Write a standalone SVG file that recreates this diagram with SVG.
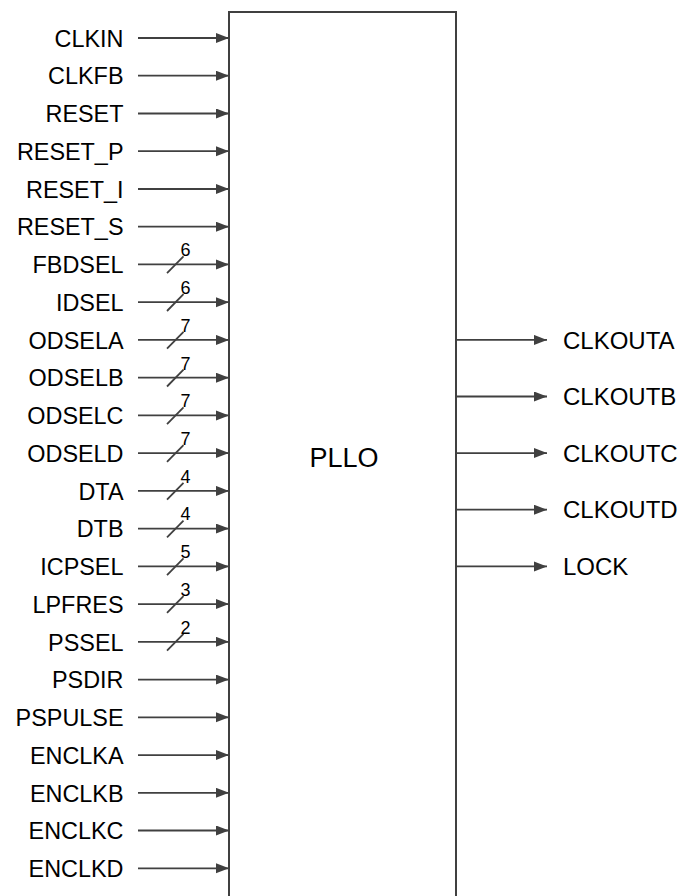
<svg xmlns="http://www.w3.org/2000/svg" width="678" height="896" viewBox="0 0 678 896">
<defs>
<marker id="ah" markerUnits="userSpaceOnUse" markerWidth="14" markerHeight="12" refX="13" refY="5" orient="auto"><path d="M0,0 L13,5 L0,10 z" fill="#404040"/></marker>
<style>
.lbl{font-family:"Liberation Sans",Arial,sans-serif;font-size:23.4px;fill:#000}
.in{text-anchor:end}
.out{font-size:24px}
.num{font-family:"Liberation Sans",Arial,sans-serif;font-size:18px;fill:#000;text-anchor:middle}
.w{stroke:#404040;stroke-width:1.8;fill:none}
.a{marker-end:url(#ah)}
</style>
</defs>
<rect x="0" y="0" width="678" height="896" fill="#fff"/>
<g id="pll">
<rect x="229" y="12" width="227" height="900" fill="#fff" stroke="#404040" stroke-width="2"/>
<text class="lbl" x="344" y="467" text-anchor="middle" style="font-size:27px">PLLO</text>
</g>
<g id="labels">
<text class="lbl in" x="123.5" y="46.7">CLKIN</text>
<text class="lbl in" x="123.5" y="84.4">CLKFB</text>
<text class="lbl in" x="123.5" y="122.2">RESET</text>
<text class="lbl in" x="123.5" y="159.9">RESET_P</text>
<text class="lbl in" x="123.5" y="197.7">RESET_I</text>
<text class="lbl in" x="123.5" y="235.4">RESET_S</text>
<text class="lbl in" x="123.5" y="273.1">FBDSEL</text>
<text class="lbl in" x="123.5" y="310.9">IDSEL</text>
<text class="lbl in" x="123.5" y="348.6">ODSELA</text>
<text class="lbl in" x="123.5" y="386.4">ODSELB</text>
<text class="lbl in" x="123.5" y="424.1">ODSELC</text>
<text class="lbl in" x="123.5" y="461.8">ODSELD</text>
<text class="lbl in" x="123.5" y="499.6">DTA</text>
<text class="lbl in" x="123.5" y="537.3">DTB</text>
<text class="lbl in" x="123.5" y="575.1">ICPSEL</text>
<text class="lbl in" x="123.5" y="612.8">LPFRES</text>
<text class="lbl in" x="123.5" y="650.5">PSSEL</text>
<text class="lbl in" x="123.5" y="688.3">PSDIR</text>
<text class="lbl in" x="123.5" y="726">PSPULSE</text>
<text class="lbl in" x="123.5" y="763.8">ENCLKA</text>
<text class="lbl in" x="123.5" y="801.5">ENCLKB</text>
<text class="lbl in" x="123.5" y="839.2">ENCLKC</text>
<text class="lbl in" x="123.5" y="877">ENCLKD</text>
<text class="lbl out" x="563" y="348.6">CLKOUTA</text>
<text class="lbl out" x="563" y="405.2">CLKOUTB</text>
<text class="lbl out" x="563" y="461.8">CLKOUTC</text>
<text class="lbl out" x="563" y="518.4">CLKOUTD</text>
<text class="lbl out" x="563" y="575.1">LOCK</text>
</g>
<g id="connectors">
<line class="w a" x1="138" y1="38" x2="229" y2="38"/>
<line class="w a" x1="138" y1="75.7" x2="229" y2="75.7"/>
<line class="w a" x1="138" y1="113.5" x2="229" y2="113.5"/>
<line class="w a" x1="138" y1="151.2" x2="229" y2="151.2"/>
<line class="w a" x1="138" y1="189" x2="229" y2="189"/>
<line class="w a" x1="138" y1="226.7" x2="229" y2="226.7"/>
<line class="w a" x1="138" y1="264.4" x2="229" y2="264.4"/>
<line class="w a" x1="138" y1="302.2" x2="229" y2="302.2"/>
<line class="w a" x1="138" y1="339.9" x2="229" y2="339.9"/>
<line class="w a" x1="138" y1="377.7" x2="229" y2="377.7"/>
<line class="w a" x1="138" y1="415.4" x2="229" y2="415.4"/>
<line class="w a" x1="138" y1="453.1" x2="229" y2="453.1"/>
<line class="w a" x1="138" y1="490.9" x2="229" y2="490.9"/>
<line class="w a" x1="138" y1="528.6" x2="229" y2="528.6"/>
<line class="w a" x1="138" y1="566.4" x2="229" y2="566.4"/>
<line class="w a" x1="138" y1="604.1" x2="229" y2="604.1"/>
<line class="w a" x1="138" y1="641.8" x2="229" y2="641.8"/>
<line class="w a" x1="138" y1="679.6" x2="229" y2="679.6"/>
<line class="w a" x1="138" y1="717.3" x2="229" y2="717.3"/>
<line class="w a" x1="138" y1="755.1" x2="229" y2="755.1"/>
<line class="w a" x1="138" y1="792.8" x2="229" y2="792.8"/>
<line class="w a" x1="138" y1="830.5" x2="229" y2="830.5"/>
<line class="w a" x1="138" y1="868.3" x2="229" y2="868.3"/>
<line class="w a" x1="456" y1="339.9" x2="547" y2="339.9"/>
<line class="w a" x1="456" y1="396.5" x2="547" y2="396.5"/>
<line class="w a" x1="456" y1="453.1" x2="547" y2="453.1"/>
<line class="w a" x1="456" y1="509.7" x2="547" y2="509.7"/>
<line class="w a" x1="456" y1="566.4" x2="547" y2="566.4"/>
</g>
<g id="buses">
<line class="w" x1="167" y1="273.2" x2="183.5" y2="256.4"/><text class="num" x="185.5" y="256.2">6</text>
<line class="w" x1="167" y1="311" x2="183.5" y2="294.2"/><text class="num" x="185.5" y="294">6</text>
<line class="w" x1="167" y1="348.7" x2="183.5" y2="331.9"/><text class="num" x="185.5" y="331.7">7</text>
<line class="w" x1="167" y1="386.5" x2="183.5" y2="369.7"/><text class="num" x="185.5" y="369.5">7</text>
<line class="w" x1="167" y1="424.2" x2="183.5" y2="407.4"/><text class="num" x="185.5" y="407.2">7</text>
<line class="w" x1="167" y1="461.9" x2="183.5" y2="445.1"/><text class="num" x="185.5" y="444.9">7</text>
<line class="w" x1="167" y1="499.7" x2="183.5" y2="482.9"/><text class="num" x="185.5" y="482.7">4</text>
<line class="w" x1="167" y1="537.4" x2="183.5" y2="520.6"/><text class="num" x="185.5" y="520.4">4</text>
<line class="w" x1="167" y1="575.2" x2="183.5" y2="558.4"/><text class="num" x="185.5" y="558.2">5</text>
<line class="w" x1="167" y1="612.9" x2="183.5" y2="596.1"/><text class="num" x="185.5" y="595.9">3</text>
<line class="w" x1="167" y1="650.6" x2="183.5" y2="633.8"/><text class="num" x="185.5" y="633.6">2</text>
</g>
</svg>
